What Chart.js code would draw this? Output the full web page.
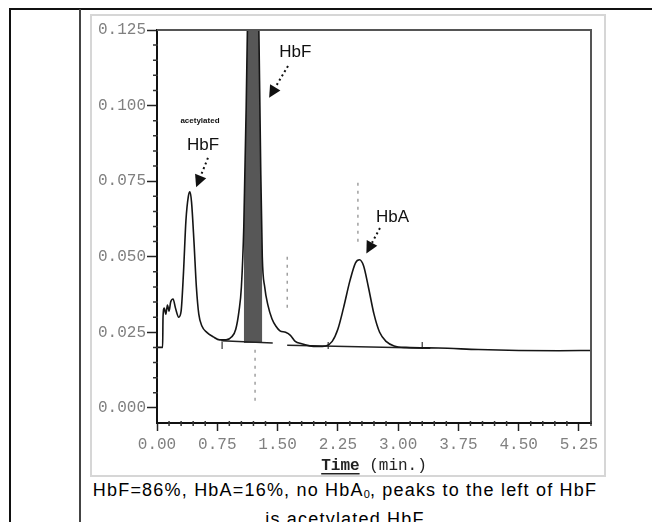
<!DOCTYPE html>
<html>
<head>
<meta charset="utf-8">
<script src="https://cdn.jsdelivr.net/npm/chart.js@4/dist/chart.umd.min.js"></script>
<style>
  body { margin: 0; background: #fff; width: 652px; height: 522px; overflow: hidden; position: relative; }
  .line-top { position: absolute; left: 9px; top: 8px; width: 643px; height: 2px; background: #111; }
  .line-left { position: absolute; left: 9px; top: 8px; width: 2px; height: 514px; background: #111; }
  .line-mid { position: absolute; left: 79px; top: 9px; width: 2px; height: 513px; background: #444; }
  .box { position: absolute; left: 90px; top: 14px; width: 516px; height: 463px; border: 2px solid #d6d6d6; box-sizing: border-box; }
  #wrap { position: absolute; left: 91px; top: 15px; width: 514px; height: 462px; }
  .caption { position: absolute; left: 80px; top: 478px; width: 530px; text-align: center;
    font-family: "Liberation Sans", Arial, sans-serif; font-size: 18px; line-height: 25px; color: #000; letter-spacing: 1.2px; }
  .caption sub { font-size: 11px; vertical-align: -2px; letter-spacing: 0; }
</style>
</head>
<body>
<div class="line-top"></div>
<div class="line-left"></div>
<div class="line-mid"></div>
<div class="box"></div>
<div id="wrap"><canvas id="chromo" width="514" height="462"></canvas></div>
<div class="caption">HbF=86%, HbA=16%, no HbA<sub>0</sub>, peaks to the left of HbF<br>is acetylated HbF</div>

<script>
// chromatogram: time (min) vs absorbance
var timeVals = [0.00, 0.07, 0.075, 0.09, 0.11, 0.13, 0.15, 0.17, 0.20, 0.23, 0.27, 0.30, 0.33, 0.36, 0.39, 0.41, 0.43, 0.46, 0.49, 0.52,
  0.56, 0.62, 0.70, 0.78, 0.86, 0.93, 0.98, 1.02, 1.05, 1.08, 1.11, 1.14, 1.18, 1.22, 1.26, 1.29, 1.31, 1.34, 1.38, 1.43, 1.48,
  1.53, 1.60, 1.66, 1.72, 1.80, 1.90, 2.00, 2.10, 2.18, 2.25, 2.32, 2.40, 2.47, 2.52, 2.57, 2.63, 2.70, 2.77, 2.85, 2.95,
  3.10, 3.50, 4.00, 4.50, 5.00, 5.40];
var absorbance = [0.0200, 0.0200, 0.0300, 0.0330, 0.0310, 0.0340, 0.0320, 0.0350, 0.0360, 0.0330, 0.0300, 0.0320, 0.0450, 0.0620, 0.0700, 0.0715, 0.0680, 0.0550, 0.0400, 0.0310,
  0.0270, 0.0250, 0.0235, 0.0225, 0.0225, 0.0235, 0.0260, 0.0320, 0.0400, 0.0600, 0.1000, 0.1500, 0.2000, 0.1900, 0.1400, 0.0800, 0.0500, 0.0400, 0.0340, 0.0295, 0.0270,
  0.0255, 0.0250, 0.0240, 0.0220, 0.0212, 0.0205, 0.0203, 0.0205, 0.0220, 0.0260, 0.0330, 0.0420, 0.0480, 0.0490, 0.0470, 0.0400, 0.0310, 0.0250, 0.0220, 0.0205,
  0.0200, 0.0198, 0.0193, 0.0190, 0.0189, 0.0190];

// integrated HbF window (shaded)
var hbfWindow = [1.07, 1.31];
var hbfBase = 0.0215;

// integration baselines [x1, y1, x2, y2]
var baselines = [[0.80, 0.0222, 1.44, 0.0215], [1.62, 0.0207, 3.40, 0.0197]];
// event markers [x, yFrom, yTo]
var markers = [[1.22, 0.0192, 0.002], [1.62, 0.0500, 0.0330], [2.50, 0.0745, 0.0540]];
// small integration ticks on the baseline
var baseTicks = [0.81, 2.13, 3.30];

var xTickLabels = ['0.00', '0.75', '1.50', '2.25', '3.00', '3.75', '4.50', '5.25'];
var yTickLabels = ['0.000', '0.025', '0.050', '0.075', '0.100', '0.125'];

// peak labels: text, x, y, and arrow from/to
var peakNotes = [
  { text: 'HbF', x: 1.72, y: 0.1177, ax: 1.63, ay: 0.1131, bx: 1.395, by: 0.1026 },
  { text: 'HbF', x: 0.572, y: 0.0870, ax: 0.634, ay: 0.0827, bx: 0.487, by: 0.0730, small: 'acetylated', sy: 0.0949 },
  { text: 'HbA', x: 2.93, y: 0.0632, ax: 2.774, ay: 0.0595, bx: 2.605, by: 0.0511 }
];

var trace = timeVals.map(function (t, i) { return { x: t, y: absorbance[i] }; });
var shade = trace.filter(function (p) { return p.x >= hbfWindow[0] && p.x <= hbfWindow[1]; });

var datasets = [{
  data: trace, borderColor: '#151515', borderWidth: 1.6, pointRadius: 0,
  cubicInterpolationMode: 'monotone', fill: false, order: 0
}, {
  data: shade, borderWidth: 0, pointRadius: 0, backgroundColor: '#575757',
  cubicInterpolationMode: 'monotone', fill: { value: hbfBase }, order: 3
}];
baselines.forEach(function (b) {
  datasets.push({ data: [{ x: b[0], y: b[1] }, { x: b[2], y: b[3] }], borderColor: '#222', borderWidth: 1.5, pointRadius: 0, order: 1 });
});
markers.forEach(function (m) {
  datasets.push({ data: [{ x: m[0], y: m[1] }, { x: m[0], y: m[2] }], borderColor: '#888', borderWidth: 1.2,
    borderDash: [3, 5], pointRadius: 0, order: 2 });
});
baseTicks.forEach(function (t) {
  datasets.push({ data: [{ x: t, y: 0.0218 }, { x: t, y: 0.0195 }], borderColor: '#333', borderWidth: 1.2, pointRadius: 0, order: 1 });
});

function isMajor(v, labels) {
  return labels.some(function (l) { return Math.abs(parseFloat(l) - v) < 1e-6; });
}
function labelFor(v, labels) {
  var s = '';
  labels.forEach(function (l) { if (Math.abs(parseFloat(l) - v) < 1e-6) s = l; });
  return s;
}

var monoFont = '"Liberation Mono", "DejaVu Sans Mono", monospace';

var framePlugin = {
  id: 'frame',
  afterDatasetsDraw: function (chart) {
    var c = chart.ctx, a = chart.chartArea, xs = chart.scales.x, ys = chart.scales.y;
    c.save();
    // top & right frame
    c.strokeStyle = '#555';
    c.lineWidth = 2;
    c.beginPath();
    c.moveTo(a.left, a.top); c.lineTo(a.right, a.top); c.lineTo(a.right, a.bottom);
    c.stroke();
    // minor ticks
    c.strokeStyle = '#333';
    c.lineWidth = 1.5;
    c.beginPath();
    xs.ticks.forEach(function (t) {
      if (isMajor(t.value, xTickLabels)) return;
      var px = xs.getPixelForValue(t.value);
      c.moveTo(px, a.bottom - 2); c.lineTo(px, a.bottom + 3);
    });
    ys.ticks.forEach(function (t) {
      if (isMajor(t.value, yTickLabels)) return;
      var py = ys.getPixelForValue(t.value);
      c.moveTo(a.left - 4, py); c.lineTo(a.left + 1, py);
    });
    c.stroke();
    // axis title: "Time" bold underlined, "(min.)" regular
    var ty = a.bottom + 43, cx = (a.left + a.right) / 2;
    c.fillStyle = '#222';
    c.textBaseline = 'middle';
    c.textAlign = 'left';
    c.font = 'bold 16px ' + monoFont;
    var w1 = c.measureText('Time').width;
    c.font = '16px ' + monoFont;
    var w2 = c.measureText(' (min.)').width;
    var x0 = cx - (w1 + w2) / 2;
    c.font = 'bold 16px ' + monoFont;
    c.fillText('Time', x0, ty);
    c.fillRect(x0, ty + 7, w1, 1.5);
    c.font = '16px ' + monoFont;
    c.fillText(' (min.)', x0 + w1, ty);
    // peak notes
    peakNotes.forEach(function (n) {
      c.fillStyle = '#111';
      c.textAlign = 'center';
      c.textBaseline = 'middle';
      c.font = '17px "Liberation Sans", Arial, sans-serif';
      c.fillText(n.text, xs.getPixelForValue(n.x), ys.getPixelForValue(n.y));
      if (n.small) {
        c.font = 'bold 8px "Liberation Sans", Arial, sans-serif';
        c.fillText(n.small, xs.getPixelForValue(n.x) - 3, ys.getPixelForValue(n.sy));
      }
      var x1 = xs.getPixelForValue(n.ax), y1 = ys.getPixelForValue(n.ay);
      var x2 = xs.getPixelForValue(n.bx), y2 = ys.getPixelForValue(n.by);
      var ang = Math.atan2(y2 - y1, x2 - x1);
      var hx = x2 - 12 * Math.cos(ang), hy = y2 - 12 * Math.sin(ang);
      c.strokeStyle = '#111';
      c.lineWidth = 2;
      c.setLineDash([2, 3]);
      c.beginPath(); c.moveTo(x1, y1); c.lineTo(hx, hy); c.stroke();
      c.setLineDash([]);
      c.beginPath();
      c.moveTo(x2, y2);
      c.lineTo(hx + 6 * Math.sin(ang), hy - 6 * Math.cos(ang));
      c.lineTo(hx - 6 * Math.sin(ang), hy + 6 * Math.cos(ang));
      c.closePath();
      c.fill();
    });
    c.restore();
  }
};

var ctx = document.getElementById('chromo').getContext('2d');
var myChart = new Chart(ctx, {
  type: 'line',
  data: { datasets: datasets },
  plugins: [framePlugin],
  options: {
    responsive: false,
    animation: false,
    events: [],
    layout: { padding: { top: 15, right: 14, left: 0, bottom: 0 } },
    plugins: { legend: { display: false }, tooltip: { enabled: false } },
    scales: {
      x: {
        type: 'linear', min: 0, max: 5.4,
        afterBuildTicks: function (scale) {
          var t = [];
          for (var i = 0; i <= 36; i++) t.push({ value: Math.round(i * 15) / 100 });
          scale.ticks = t;
        },
        afterFit: function (scale) { scale.height = 54; },
        border: { display: true, color: '#111', width: 2 },
        grid: {
          drawOnChartArea: false, drawTicks: true, tickLength: 8,
          tickColor: function (c) { return c.tick && isMajor(c.tick.value, xTickLabels) ? '#222' : 'rgba(0,0,0,0)'; },
          tickWidth: 1.5
        },
        ticks: {
          autoSkip: false, maxRotation: 0, padding: 4, color: '#808080',
          font: { family: monoFont, size: 16 },
          callback: function (v) { return labelFor(v, xTickLabels); }
        }
      },
      y: {
        type: 'linear', min: -0.005, max: 0.125,
        afterBuildTicks: function (scale) {
          var t = [];
          for (var i = 0; i <= 25; i++) t.push({ value: Math.round(i * 5) / 1000 });
          scale.ticks = t;
        },
        afterFit: function (scale) { scale.width = 66; },
        border: { display: true, color: '#111', width: 2 },
        grid: {
          drawOnChartArea: false, drawTicks: true, tickLength: 10,
          tickColor: function (c) { return c.tick && isMajor(c.tick.value, yTickLabels) ? '#222' : 'rgba(0,0,0,0)'; },
          tickWidth: 1.5
        },
        ticks: {
          autoSkip: false, padding: 1, color: '#808080',
          font: { family: monoFont, size: 16 },
          callback: function (v) { return labelFor(v, yTickLabels); }
        }
      }
    }
  }
});
</script>
</body>
</html>
